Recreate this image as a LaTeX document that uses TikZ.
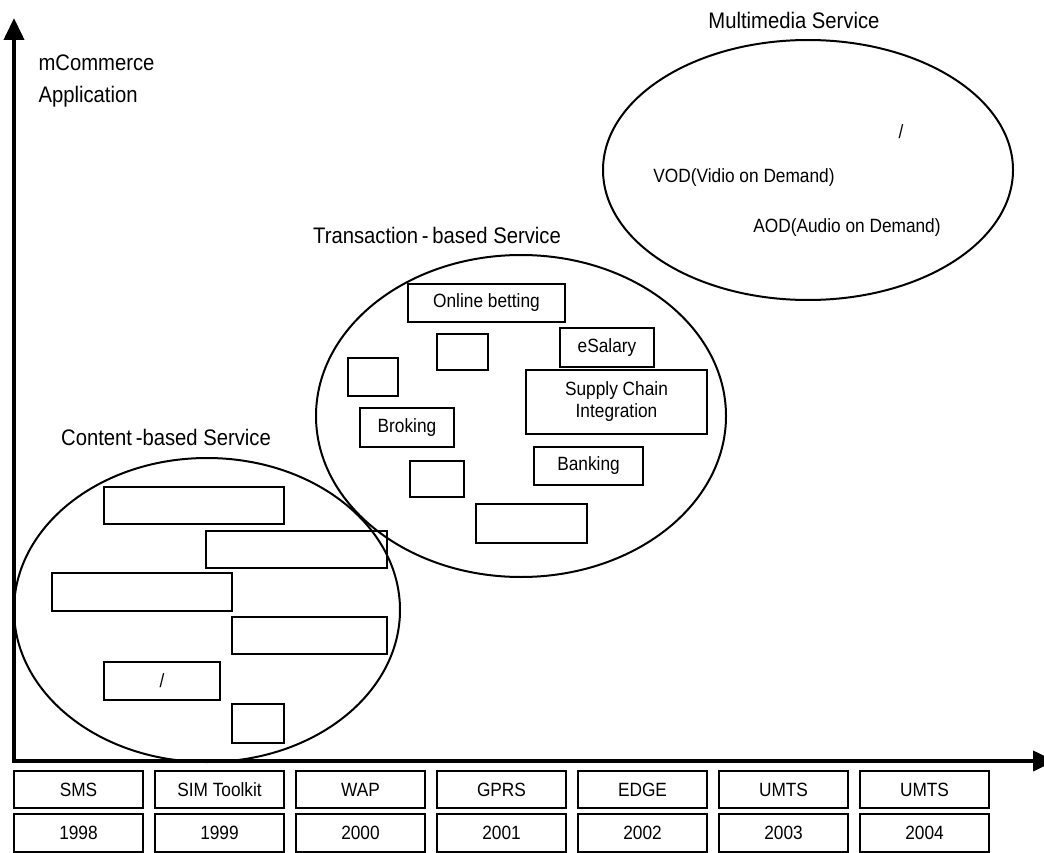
\documentclass[tikz,border=0pt]{standalone}
\usepackage{fontspec}
\setmainfont{Liberation Sans}[FakeStretch=0.9]
\usetikzlibrary{arrows.meta,positioning,shapes.geometric}
\tikzset{
	axis/.style={line width=4pt, line join=miter, {Triangle[length=22pt,width=20pt]}-{Triangle[length=22pt,width=20pt]}},
	area/.style={draw, ellipse, line width=2pt, inner sep=0pt},
	item/.style={draw, line width=1.8pt, inner sep=0pt, font=\fontsize{19.2}{22}\selectfont},
	tech/.style={item, minimum width=129pt},
	ttl/.style={font=\fontsize{22.5}{26}\selectfont},
	txt/.style={font=\fontsize{19.2}{22}\selectfont},
}
\begin{document}
\begin{tikzpicture}[x=1pt,y=-1pt]
	\useasboundingbox (0,0) rectangle (1044,853);
	%
	% axes
	\coordinate (ytip) at (14,18);
	\coordinate (origin) at (14,761);
	\coordinate (xtip) at (1055,761);
	\draw[axis] (ytip) -- (origin) -- (xtip);
	\node[ttl, align=left, anchor=west, font=\fontsize{22.5}{32}\selectfont] (ylabel) at (35,81) {mCommerce\\Application};
	
	% technologies and years
	\foreach \t [count=\i from 0] in {SMS,SIM Toolkit,WAP,GPRS,EDGE,UMTS,UMTS}{
		\pgfmathtruncatemacro\yr{1998+\i}
		\node[tech, minimum height=37pt] (tech\i) at (78.5+141*\i,789.5) {\t};
		\node[tech, minimum height=38pt] (year\i) at (78.5+141*\i,833) {\yr};
	}
	
	% content-based service
	\node[area, minimum width=386pt, minimum height=304pt] (content) at (207,610) {};
	\node[ttl] (contentlabel) at (166,437) {Content\,-based Service};
	\node[item, minimum width=180pt, minimum height=37pt] (cnt1) at (194,505.5) {};
	\node[item, minimum width=181pt, minimum height=37pt] (cnt2) at (296.5,549.5) {};
	\node[item, minimum width=180pt, minimum height=38pt] (cnt3) at (142,592) {};
	\node[item, minimum width=155pt, minimum height=37pt] (cnt4) at (309.5,635.5) {};
	\node[item, minimum width=116pt, minimum height=38pt] (cnt5) at (162,681) {/};
	\node[item, minimum width=52pt, minimum height=39pt] (cnt6) at (258,723.5) {};
	
	% transaction-based service
	\node[area, minimum width=410pt, minimum height=322pt] (trans) at (521,416) {};
	\node[ttl] (translabel) at (437,235) {Transaction\,-\,based Service};
	\node[item, minimum width=157pt, minimum height=38pt] (betting) at (486.5,303) {Online betting};
	\node[item, minimum width=51pt, minimum height=36pt] (trn1) at (462.5,352) {};
	\node[item, minimum width=94pt, minimum height=39pt] (salary) at (607,347.5) {eSalary};
	\node[item, minimum width=50pt, minimum height=38pt] (trn2) at (373,377) {};
	\node[item, minimum width=181pt, minimum height=64pt, align=center] (supply) at (616.5,402) {Supply Chain\\Integration};
	\node[item, minimum width=94pt, minimum height=39pt] (broking) at (407,427.5) {Broking};
	\node[item, minimum width=109pt, minimum height=38pt] (banking) at (588.5,466) {Banking};
	\node[item, minimum width=54pt, minimum height=36pt] (trn3) at (437,479) {};
	\node[item, minimum width=111pt, minimum height=39pt] (trn4) at (531.5,523.5) {};
	
	% multimedia service
	\node[area, minimum width=410pt, minimum height=260pt] (multi) at (808,170) {};
	\node[ttl] (multilabel) at (794,20) {Multimedia Service};
	\node[txt] (slash) at (901,132) {/};
	\node[txt] (vod) at (744,178) {VOD(Vidio on Demand)};
	\node[txt] (aod) at (847,228) {AOD(Audio on Demand)};
\end{tikzpicture}
\end{document}
